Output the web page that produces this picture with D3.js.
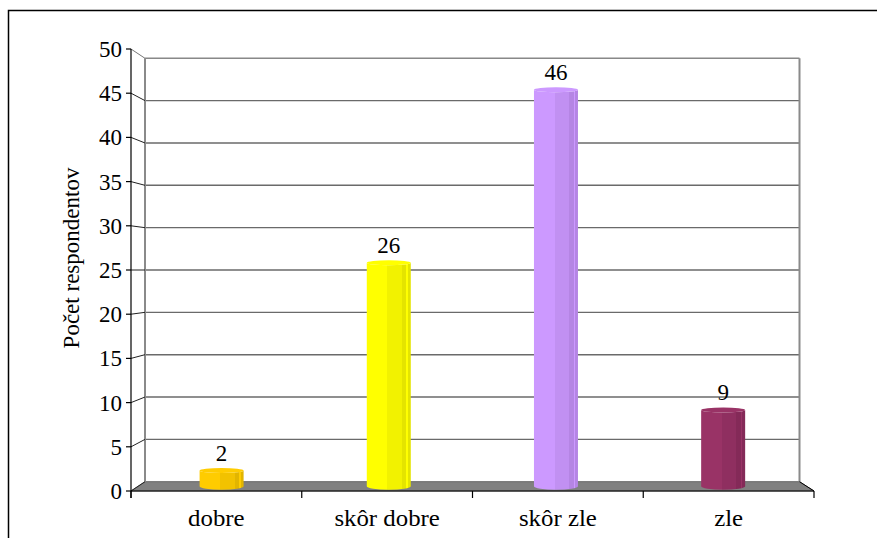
<!DOCTYPE html>
<html>
<head>
<meta charset="utf-8">
<script src="https://cdn.jsdelivr.net/npm/d3@7.9.0/dist/d3.min.js"></script>
<style>
  html, body { margin: 0; padding: 0; background: #fff; }
  svg text { font-family: 'Liberation Serif', 'Times New Roman', 'DejaVu Serif', serif; }
</style>
</head>
<body>
<svg id="chart" width="877" height="538"></svg>
<script>
// data
var categories = ['dobre', 'skôr dobre', 'skôr zle', 'zle']
var values = [2, 26, 46, 9]
var yTicks = [0, 5, 10, 15, 20, 25, 30, 35, 40, 45, 50]
var yTitle = 'Počet respondentov'
// colour bands for each cylinder: base, mid, dark
var barColors = [
    ['#ffcc00', '#f2c200', '#e2b500'],
    ['#ffff00', '#f2f200', '#e4e400'],
    ['#cc99ff', '#c190f2', '#b585e4'],
    ['#993366', '#8f2f60', '#842a58']
]
var FONT = "'Liberation Serif', 'Times New Roman', serif"

var svg = d3.select('#chart')

// front plane and back plane of the 3d box (perspective: back is smaller)
var xFront = d3.scaleBand().domain(categories).range([131, 814])
var xBack = d3.scaleBand().domain(categories).range([145, 799.5])
var yFront = d3.scaleLinear().domain([0, 50]).range([491, 49])
var yBack = d3.scaleLinear().domain([0, 50]).range([481.7, 58.3])
function yMid(v) { return (yFront(v) + yBack(v)) / 2 }
function xMid(c) {
    return (xFront(c) + xFront.bandwidth() / 2 + xBack(c) + xBack.bandwidth() / 2) / 2
}

// outer frame
svg.append('path')
    .attr('d', 'M8.5,540 L8.5,10.5 L880,10.5')
    .attr('fill', 'none')
    .attr('stroke', '#000')
    .attr('stroke-width', 1.5)

var x0f = xFront.range()[0], x1f = xFront.range()[1]
var x0b = xBack.range()[0], x1b = xBack.range()[1]

// floor
svg.append('path')
    .attr('d', 'M' + x0f + ',' + yFront(0) + ' L' + x1f + ',' + yFront(0) +
        ' L' + x1b + ',' + yBack(0) + ' L' + x0b + ',' + yBack(0) + 'Z')
    .attr('fill', '#808080')
    .attr('stroke', '#666')
    .attr('stroke-width', 1)

// back wall gridlines
svg.append('g').selectAll('line')
    .data(yTicks.filter(function (d) { return d > 0 }))
    .join('line')
    .attr('x1', x0b).attr('x2', x1b)
    .attr('y1', function (d) { return yBack(d) })
    .attr('y2', function (d) { return yBack(d) })
    .attr('stroke', function (d) { return d === 50 ? '#888' : '#6a6a6a' })
    .attr('stroke-width', 1.4)

// back wall sides
svg.append('line')
    .attr('x1', x0b).attr('x2', x0b)
    .attr('y1', yBack(50)).attr('y2', yBack(0))
    .attr('stroke', '#8a8a8a').attr('stroke-width', 2)
svg.append('line')
    .attr('x1', x1b).attr('x2', x1b)
    .attr('y1', yBack(50)).attr('y2', yBack(0))
    .attr('stroke', '#8a8a8a').attr('stroke-width', 2)

// side wall diagonals
svg.append('g').selectAll('line')
    .data(yTicks)
    .join('line')
    .attr('x1', x0f).attr('x2', x0b)
    .attr('y1', function (d) { return yFront(d) })
    .attr('y2', function (d) { return yBack(d) })
    .attr('stroke', function (d) { return d === 50 ? '#777' : '#222' })
    .attr('stroke-width', 1)

// right floor edge
svg.append('line')
    .attr('x1', x1b).attr('y1', yBack(0))
    .attr('x2', x1f).attr('y2', yFront(0))
    .attr('stroke', '#000').attr('stroke-width', 1)

// cylinders
var defs = svg.append('defs')
barColors.forEach(function (c, i) {
    var g = defs.append('linearGradient').attr('id', 'cyl' + i)
    var stops = [
        [0, c[0]], [0.47, c[0]], [0.47, c[1]], [0.8, c[1]],
        [0.8, c[2]], [0.9, c[2]], [0.9, c[0]], [0.93, c[0]], [0.93, c[2]], [1, c[2]]
    ]
    stops.forEach(function (s) {
        g.append('stop').attr('offset', s[0]).attr('stop-color', s[1])
    })
})

var bw = 44, ry = 2.5
var bars = svg.append('g').selectAll('g')
    .data(categories)
    .join('g')

bars.append('path')
    .attr('d', function (c, i) {
        var cx = xMid(c), l = cx - bw / 2, r = cx + bw / 2
        var top = yMid(values[i]) + ry - 1, bot = yMid(0)
        return 'M' + l + ',' + top + ' L' + l + ',' + bot +
            ' A' + bw / 2 + ',' + 3.5 + ' 0 0 0 ' + r + ',' + bot +
            ' L' + r + ',' + top +
            ' A' + bw / 2 + ',' + ry + ' 0 0 1 ' + l + ',' + top + 'Z'
    })
    .attr('fill', function (c, i) { return 'url(#cyl' + i + ')' })

bars.append('ellipse')
    .attr('cx', function (c) { return xMid(c) })
    .attr('cy', function (c, i) { return yMid(values[i]) + ry - 1 })
    .attr('rx', bw / 2)
    .attr('ry', ry)
    .attr('fill', function (c, i) { return barColors[i][0] })

bars.append('text')
    .attr('x', function (c) { return xMid(c) })
    .attr('y', function (c, i) { return yMid(values[i]) - 8 })
    .attr('text-anchor', 'middle')
    .attr('font-family', FONT)
    .attr('font-size', 23)
    .attr('fill', '#000')
    .text(function (c, i) { return values[i] })

// front axes
svg.append('line')
    .attr('x1', x0f).attr('x2', x0f)
    .attr('y1', yFront(50)).attr('y2', yFront(0) + 7)
    .attr('stroke', '#000').attr('stroke-width', 1.2)
svg.append('line')
    .attr('x1', x0f).attr('x2', x1f)
    .attr('y1', yFront(0)).attr('y2', yFront(0))
    .attr('stroke', '#000').attr('stroke-width', 1.2)

svg.append('g').selectAll('line')
    .data(d3.range(categories.length + 1))
    .join('line')
    .attr('x1', function (i) { return x0f + i * xFront.step() })
    .attr('x2', function (i) { return x0f + i * xFront.step() })
    .attr('y1', yFront(0)).attr('y2', yFront(0) + 7)
    .attr('stroke', '#000').attr('stroke-width', 1.2)

svg.append('g').selectAll('line')
    .data(yTicks)
    .join('line')
    .attr('x1', x0f - 5).attr('x2', x0f)
    .attr('y1', function (d) { return yFront(d) })
    .attr('y2', function (d) { return yFront(d) })
    .attr('stroke', '#000').attr('stroke-width', 1.2)

svg.append('g').selectAll('text')
    .data(yTicks)
    .join('text')
    .attr('x', 122)
    .attr('y', function (d) { return yFront(d) + 8 })
    .attr('text-anchor', 'end')
    .attr('font-family', FONT)
    .attr('font-size', 23)
    .text(function (d) { return d })

svg.append('g').selectAll('text')
    .data(categories)
    .join('text')
    .attr('transform', function (c) {
        return 'translate(' + (xFront(c) + xFront.bandwidth() / 2) + ',526) scale(1.08,1)'
    })
    .attr('text-anchor', 'middle')
    .attr('font-family', FONT)
    .attr('font-size', 23)
    .text(function (c) { return c })

svg.append('text')
    .attr('transform', 'translate(79,258) rotate(-90)')
    .attr('text-anchor', 'middle')
    .attr('font-family', FONT)
    .attr('font-size', 23)
    .text(yTitle)
</script>
</body>
</html>
